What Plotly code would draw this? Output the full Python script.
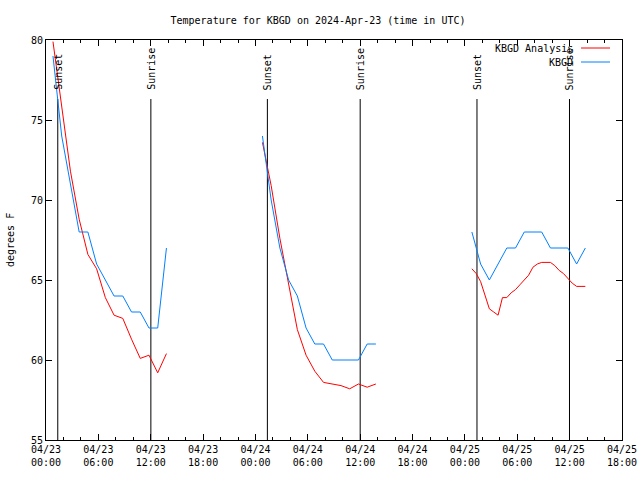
import plotly.graph_objects as go

# ---- data ----
obs_times_1 = ["2024-04-23 00:48", "2024-04-23 01:48", "2024-04-23 02:48", "2024-04-23 03:48",
               "2024-04-23 04:48", "2024-04-23 05:48", "2024-04-23 06:48", "2024-04-23 07:48",
               "2024-04-23 08:48", "2024-04-23 09:48", "2024-04-23 10:48", "2024-04-23 11:48",
               "2024-04-23 12:48", "2024-04-23 13:48"]
obs_times_2 = ["2024-04-24 00:48", "2024-04-24 01:48", "2024-04-24 02:48", "2024-04-24 03:48",
               "2024-04-24 04:48", "2024-04-24 05:48", "2024-04-24 06:48", "2024-04-24 07:48",
               "2024-04-24 08:48", "2024-04-24 09:48", "2024-04-24 10:48", "2024-04-24 11:48",
               "2024-04-24 12:48", "2024-04-24 13:48"]
obs_times_3 = ["2024-04-25 00:48", "2024-04-25 01:48", "2024-04-25 02:48", "2024-04-25 03:48",
               "2024-04-25 04:48", "2024-04-25 05:48", "2024-04-25 06:48", "2024-04-25 07:48",
               "2024-04-25 08:48", "2024-04-25 09:48", "2024-04-25 10:48", "2024-04-25 11:48",
               "2024-04-25 12:48", "2024-04-25 13:48"]
obs_temp_1 = [79, 74, 71, 68, 68, 66, 65, 64, 64, 63, 63, 62, 62, 67]
obs_temp_2 = [74, 70, 67, 65, 64, 62, 61, 61, 60, 60, 60, 60, 61, 61]
obs_temp_3 = [68, 66, 65, 66, 67, 67, 68, 68, 68, 67, 67, 67, 66, 67]

ana_times_1 = obs_times_1
ana_times_2 = obs_times_2
ana_times_3 = ["2024-04-25 00:48", "2024-04-25 01:18", "2024-04-25 01:48", "2024-04-25 02:18",
               "2024-04-25 02:48", "2024-04-25 03:18", "2024-04-25 03:48", "2024-04-25 04:18",
               "2024-04-25 04:48", "2024-04-25 05:18", "2024-04-25 05:48", "2024-04-25 06:18",
               "2024-04-25 06:48", "2024-04-25 07:18", "2024-04-25 07:48", "2024-04-25 08:18",
               "2024-04-25 08:48", "2024-04-25 09:18", "2024-04-25 09:48", "2024-04-25 10:18",
               "2024-04-25 10:48", "2024-04-25 11:18", "2024-04-25 11:48", "2024-04-25 12:18",
               "2024-04-25 12:48", "2024-04-25 13:18", "2024-04-25 13:48"]
ana_temp_1 = [79.9, 76.0, 71.8, 68.8, 66.6, 65.7, 63.9, 62.8, 62.6, 61.3, 60.1, 60.3, 59.2, 60.4]
ana_temp_2 = [73.6, 70.9, 67.6, 64.7, 61.9, 60.3, 59.3, 58.6, 58.5, 58.4, 58.2, 58.5, 58.3, 58.5]
ana_temp_3 = [65.7, 65.4, 64.9, 64.0, 63.2, 63.0, 62.8, 63.9, 63.9, 64.2, 64.4, 64.7, 65.0, 65.3,
              65.8, 66.0, 66.1, 66.1, 66.1, 65.9, 65.6, 65.4, 65.1, 64.8, 64.6, 64.6, 64.6]

sunset_times = ["2024-04-23 01:21", "2024-04-24 01:22", "2024-04-25 01:23"]
sunrise_times = ["2024-04-23 12:01", "2024-04-24 12:00", "2024-04-25 11:59"]

title_text = "Temperature for KBGD on 2024-Apr-23 (time in UTC)"
series_names = ["KBGD Analysis", "KBGD"]
series_colors = ["#ff0000", "#0080ff"]
x_range = ["2024-04-23 00:00", "2024-04-25 18:00"]
y_range = [55, 80]

FONT = "DejaVu Sans Mono"

ana_x = ana_times_1 + [None] + ana_times_2 + [None] + ana_times_3
ana_y = ana_temp_1 + [None] + ana_temp_2 + [None] + ana_temp_3
obs_x = obs_times_1 + [None] + obs_times_2 + [None] + obs_times_3
obs_y = obs_temp_1 + [None] + obs_temp_2 + [None] + obs_temp_3

fig = go.Figure()
fig.add_trace(go.Scatter(x=ana_x, y=ana_y, mode="lines", name=series_names[0],
                         line=dict(color=series_colors[0], width=1), showlegend=False))
fig.add_trace(go.Scatter(x=obs_x, y=obs_y, mode="lines", name=series_names[1],
                         line=dict(color=series_colors[1], width=1), showlegend=False))

L, R, T, B = 46, 18, 40, 40
W, H = 640, 480
pw, ph = W - L - R, H - T - B

def px2paper_x(px):
    return (px - L) / pw

def px2paper_y(py):
    return 1 - (py - T) / ph

shapes = []
annotations = []
label_y = y_range[1] - (92 - T) / ph * (y_range[1] - y_range[0])
line_top = y_range[1] - (99 - T) / ph * (y_range[1] - y_range[0])
for times, label in ((sunset_times, "Sunset"), (sunrise_times, "Sunrise")):
    for t in times:
        shapes.append(dict(type="line", xref="x", yref="y", x0=t, x1=t,
                           y0=y_range[0], y1=line_top, line=dict(color="black", width=1),
                           layer="below"))
        annotations.append(dict(x=t, y=label_y, xref="x", yref="y", text=label,
                                textangle=-90, showarrow=False, xanchor="center",
                                yanchor="bottom", font=dict(family=FONT, size=10, color="black")))

# manual legend (text right, sample on the right like gnuplot)
for i, (name, col) in enumerate(zip(series_names, series_colors)):
    ypx = 48 + i * 14
    annotations.append(dict(x=px2paper_x(575), y=px2paper_y(ypx), xref="paper", yref="paper",
                            text=name, showarrow=False, xanchor="right", yanchor="middle",
                            font=dict(family=FONT, size=10, color="black")))
    shapes.append(dict(type="line", xref="paper", yref="paper",
                       x0=px2paper_x(581), x1=px2paper_x(610),
                       y0=px2paper_y(ypx), y1=px2paper_y(ypx),
                       line=dict(color=col, width=1)))

# y axis label
annotations.append(dict(x=px2paper_x(10), y=0.5, xref="paper", yref="paper", text="degrees F",
                        textangle=-90, showarrow=False, xanchor="center", yanchor="middle",
                        font=dict(family=FONT, size=10, color="black")))

fig.update_layout(
    width=W, height=H,
    margin=dict(l=L, r=R, t=T, b=B, pad=0, autoexpand=False),
    paper_bgcolor="white", plot_bgcolor="white",
    font=dict(family=FONT, size=10, color="black"),
    title=dict(text=title_text, x=318 / W, xref="container", xanchor="center",
               y=1 - 20 / H, yref="container", yanchor="middle",
               font=dict(family=FONT, size=10, color="black")),
    shapes=shapes, annotations=annotations,
    showlegend=False,
)
fig.update_xaxes(type="date", range=x_range, tick0=x_range[0], dtick=6 * 3600 * 1000,
                 tickformat="%m/%d<br>%H:%M", ticks="inside", ticklen=6, tickcolor="black",
                 showline=True, linecolor="black", linewidth=1, mirror="ticks",
                 showgrid=False, zeroline=False, automargin=False,
                 minor=dict(dtick=2 * 3600 * 1000, ticks="inside", ticklen=3,
                            tickcolor="black", showgrid=False),
                 tickfont=dict(family=FONT, size=10, color="black"))
fig.update_yaxes(range=y_range, tick0=55, dtick=5, ticks="inside", ticklen=6, tickcolor="black",
                 showline=True, linecolor="black", linewidth=1, mirror="ticks",
                 showgrid=False, zeroline=False, automargin=False,
                 tickfont=dict(family=FONT, size=10, color="black"))

fig.write_html("out.html",
               config={"displayModeBar": False},
               post_script="document.body.style.margin='0';document.body.style.overflow='hidden';")
